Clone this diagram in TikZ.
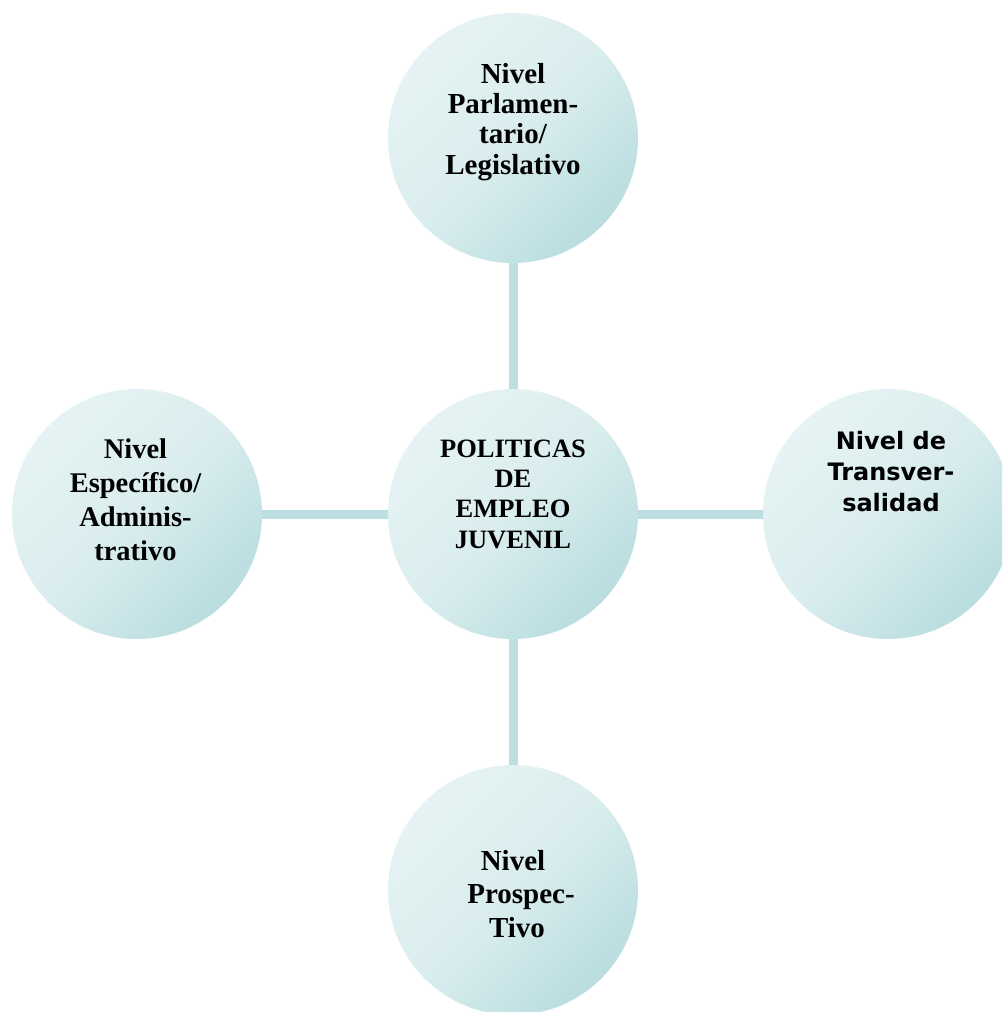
\documentclass[tikz,border=0pt]{standalone}
\usepackage{fontspec}
\setmainfont{Liberation Serif}
\newfontfamily\verd{DejaVu Sans}
\definecolor{clight}{HTML}{E6F3F4}
\definecolor{cmid}{HTML}{DAEDEE}
\definecolor{cdark}{HTML}{B9DDE0}
\definecolor{cline}{HTML}{BCDFE2}
\begin{document}
\begin{tikzpicture}[x=1pt,y=-1pt,
  bubble/.style={circle, minimum size=250pt, inner sep=0pt, draw=none,
    top color=clight, bottom color=cdark, middle color=cmid, shading angle=45},
  lab/.style={anchor=base, align=center, inner sep=0pt,
    font=\fontsize{26.5}{30.2}\selectfont\bfseries},
  conn/.style={draw=cline, line width=9pt}]
\useasboundingbox (0,0) rectangle (1002,1012);
\clip (0,0) rectangle (1002,1012);
\node[bubble] (top) at (513,138) {};
\node[bubble] (mid) at (513,514) {};
\node[bubble] (left) at (137,514) {};
\node[bubble] (right) at (888,514) {};
\node[bubble] (bot) at (513,890) {};
\draw[conn] (top) -- (mid);
\draw[conn] (left) -- (mid);
\draw[conn] (mid) -- (right);
\draw[conn] (mid) -- (bot);
\node[lab, font=\fontsize{29}{30.3}\selectfont\bfseries] (toptxt) at (513,174) {Nivel\\Parlamen-\\tario/\\Legislativo};
\node[lab] (midtxt) at (513,548) {POLITICAS\\DE\\EMPLEO\\JUVENIL};
\node[lab, font=\fontsize{28.5}{33.7}\selectfont\bfseries] (lefttxt) at (135.5,560) {Nivel\\Específico/\\Adminis-\\trativo};
\node[lab, font=\verd\fontsize{24}{30.7}\selectfont\bfseries] (righttxt) at (891,511) {Nivel de\\Transver-\\salidad};
\node[lab, font=\fontsize{29}{33.5}\selectfont\bfseries] (bottxt) at (513,937) {Nivel\\\hspace*{16pt}Prospec-\\\hspace*{8pt}Tivo};
\end{tikzpicture}
\end{document}
